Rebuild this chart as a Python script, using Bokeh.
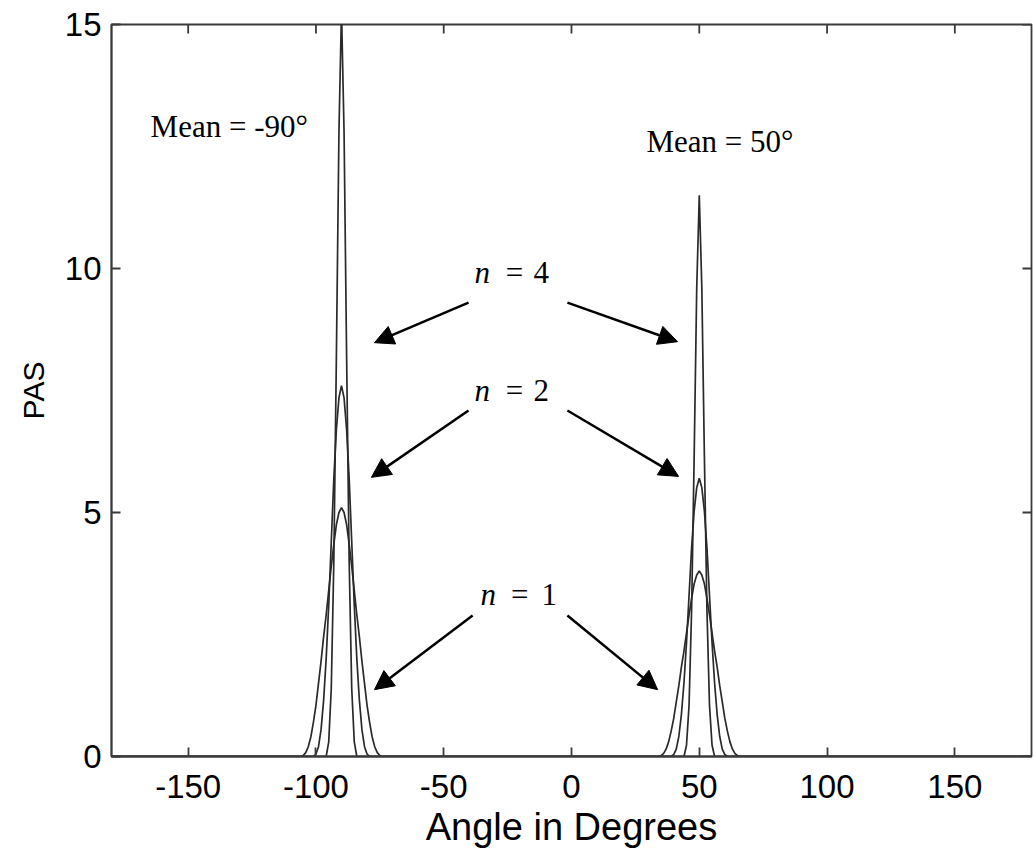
import math
from bokeh.plotting import figure
from bokeh.models import Range1d, FixedTicker, Label, Arrow, NormalHead
from bokeh.embed import file_html
from bokeh.resources import INLINE

# ---- data ----
left_angles = list(range(-106, -73))   # degrees around mean -90
right_angles = list(range(34, 67))     # degrees around mean 50

left_n1 = [0, 0.02, 0.08, 0.2, 0.4, 0.7, 1.05, 1.5, 1.95, 2.45, 2.9, 3.4, 3.9, 4.35, 4.75, 5.0, 5.1,
           5.0, 4.75, 4.35, 3.9, 3.4, 2.9, 2.45, 1.95, 1.5, 1.05, 0.7, 0.4, 0.2, 0.08, 0.02, 0]
left_n2 = [0, 0, 0, 0, 0, 0, 0.05, 0.2, 0.55, 1.15, 2.0, 3.1, 4.4, 5.7, 6.7, 7.35, 7.6,
           7.35, 6.7, 5.7, 4.4, 3.1, 2.0, 1.15, 0.55, 0.2, 0.05, 0, 0, 0, 0, 0, 0]
left_n4 = [0, 0, 0, 0, 0, 0, 0, 0, 0, 0, 0, 0.3, 1.4, 4.0, 8.2, 12.8, 15.3,
           12.8, 8.2, 4.0, 1.4, 0.3, 0, 0, 0, 0, 0, 0, 0, 0, 0, 0, 0]

right_n1 = [0, 0.015, 0.06, 0.15, 0.3, 0.52, 0.78, 1.12, 1.45, 1.83, 2.16, 2.53, 2.9, 3.24, 3.54, 3.72, 3.8,
            3.72, 3.54, 3.24, 2.9, 2.53, 2.16, 1.83, 1.45, 1.12, 0.78, 0.52, 0.3, 0.15, 0.06, 0.015, 0]
right_n2 = [0, 0, 0, 0, 0, 0, 0.04, 0.15, 0.41, 0.86, 1.5, 2.33, 3.3, 4.28, 5.03, 5.51, 5.7,
            5.51, 5.03, 4.28, 3.3, 2.33, 1.5, 0.86, 0.41, 0.15, 0.04, 0, 0, 0, 0, 0, 0]
right_n4 = [0, 0, 0, 0, 0, 0, 0, 0, 0, 0, 0, 0.23, 1.05, 3.0, 6.15, 9.6, 11.5,
            9.6, 6.15, 3.0, 1.05, 0.23, 0, 0, 0, 0, 0, 0, 0, 0, 0, 0, 0]

x_min, x_max = -180, 180
y_min, y_max = 0, 15
x_ticks = [-150, -100, -50, 0, 50, 100, 150]
x_tick_labels = ["-150", "-100", "-50", "0", "50", "100", "150"]
y_ticks = [0, 5, 10, 15]
y_tick_labels = ["0", "5", "10", "15"]

series = {"n=1": (left_n1, right_n1), "n=2": (left_n2, right_n2), "n=4": (left_n4, right_n4)}

FRAME_W, FRAME_H, TICK_PX = 920, 732, 9

# ---- figure ----
p = figure(frame_width=FRAME_W, frame_height=FRAME_H, output_backend="svg", toolbar_location=None,
           x_range=Range1d(x_min, x_max), y_range=Range1d(y_min, y_max),
           min_border_left=111, min_border_right=3, min_border_top=24, min_border_bottom=96)
p.background_fill_color = "white"
p.border_fill_color = "white"
p.outline_line_color = "#3a3a3a"
p.outline_line_width = 1.8
p.xgrid.visible = False
p.ygrid.visible = False

sans = "Liberation Sans"
serif = "Liberation Serif"
frame_col = "#3a3a3a"

for ax in (p.xaxis[0], p.yaxis[0]):
    ax.major_tick_in = TICK_PX
    ax.major_tick_out = 0
    ax.minor_tick_line_color = None
    ax.axis_line_color = frame_col
    ax.axis_line_width = 1.8
    ax.major_tick_line_color = frame_col
    ax.major_tick_line_width = 1.8
    ax.major_label_text_font = sans
    ax.major_label_text_font_size = "33px"
    ax.major_label_text_color = "black"
    ax.axis_label_text_font = sans
    ax.axis_label_text_font_style = "normal"
    ax.axis_label_text_color = "black"

p.xaxis[0].ticker = FixedTicker(ticks=x_ticks)
p.xaxis[0].major_label_overrides = dict(zip(x_ticks, x_tick_labels))
p.yaxis[0].ticker = FixedTicker(ticks=y_ticks)
p.yaxis[0].major_label_overrides = dict(zip(y_ticks, y_tick_labels))
p.xaxis[0].axis_label = "Angle in Degrees"
p.yaxis[0].axis_label = "PAS"
p.xaxis[0].axis_label_text_font_size = "38px"
p.yaxis[0].axis_label_text_font_size = "30px"
p.xaxis[0].major_label_standoff = 18
p.xaxis[0].axis_label_standoff = 5
p.yaxis[0].major_label_standoff = 10
p.yaxis[0].axis_label_standoff = 12

# inward ticks on the top and right sides of the box (lengths from the frame's scale)
tick_dy = TICK_PX * (y_max - y_min) / FRAME_H
tick_dx = TICK_PX * (x_max - x_min) / FRAME_W
p.segment(x0=x_ticks, y0=[y_max] * len(x_ticks), x1=x_ticks, y1=[y_max - tick_dy] * len(x_ticks),
          line_color=frame_col, line_width=1.8)
p.segment(x0=[x_max] * len(y_ticks), y0=y_ticks, x1=[x_max - tick_dx] * len(y_ticks), y1=y_ticks,
          line_color=frame_col, line_width=1.8)

# ---- curves ----
for name, (lv, rv) in series.items():
    xs = [x_min] + left_angles + right_angles + [x_max]
    ys = [0] + lv + rv + [0]
    p.line(xs, ys, line_color="#2a2a2a", line_width=1.7)

# ---- annotations ----
p.add_layout(Label(x=-164.7, y=12.9, text="Mean = -90°", text_font=serif,
                   text_font_size="31px", text_color="black", text_baseline="alphabetic"))
p.add_layout(Label(x=29.3, y=12.6, text="Mean = 50°", text_font=serif,
                   text_font_size="31px", text_color="black", text_baseline="alphabetic"))

n_labels = [("4", -38.0, -22.3, -14.9, 9.92), ("2", -38.0, -22.3, -14.9, 7.50),
            ("1", -35.6, -20.3, -11.7, 3.32)]
for digit, xn, xeq, xd, yb in n_labels:
    p.add_layout(Label(x=xn, y=yb, text="n", text_font=serif, text_font_style="italic",
                       text_font_size="31px", text_color="black", text_baseline="alphabetic"))
    p.add_layout(Label(x=xeq, y=yb, text="=", text_font=serif, text_font_size="31px",
                       text_color="black", text_baseline="alphabetic", text_align="center"))
    p.add_layout(Label(x=xd, y=yb, text=digit, text_font=serif, text_font_size="31px",
                       text_color="black", text_baseline="alphabetic"))

arrows = [(-40.3, 9.30, -77.1, 8.48), (-1.6, 9.30, 41.5, 8.50),
          (-40.3, 7.09, -78.3, 5.72), (-1.6, 7.09, 41.9, 5.74),
          (-38.7, 2.89, -77.1, 1.37), (-1.6, 2.89, 33.7, 1.37)]
for xs_, ys_, xe_, ye_ in arrows:
    p.add_layout(Arrow(x_start=xs_, y_start=ys_, x_end=xe_, y_end=ye_, line_width=2.5,
                       line_color="black",
                       end=NormalHead(size=19, fill_color="black", line_color="black", line_width=1)))

open("out.html", "w").write(file_html(p, INLINE))
